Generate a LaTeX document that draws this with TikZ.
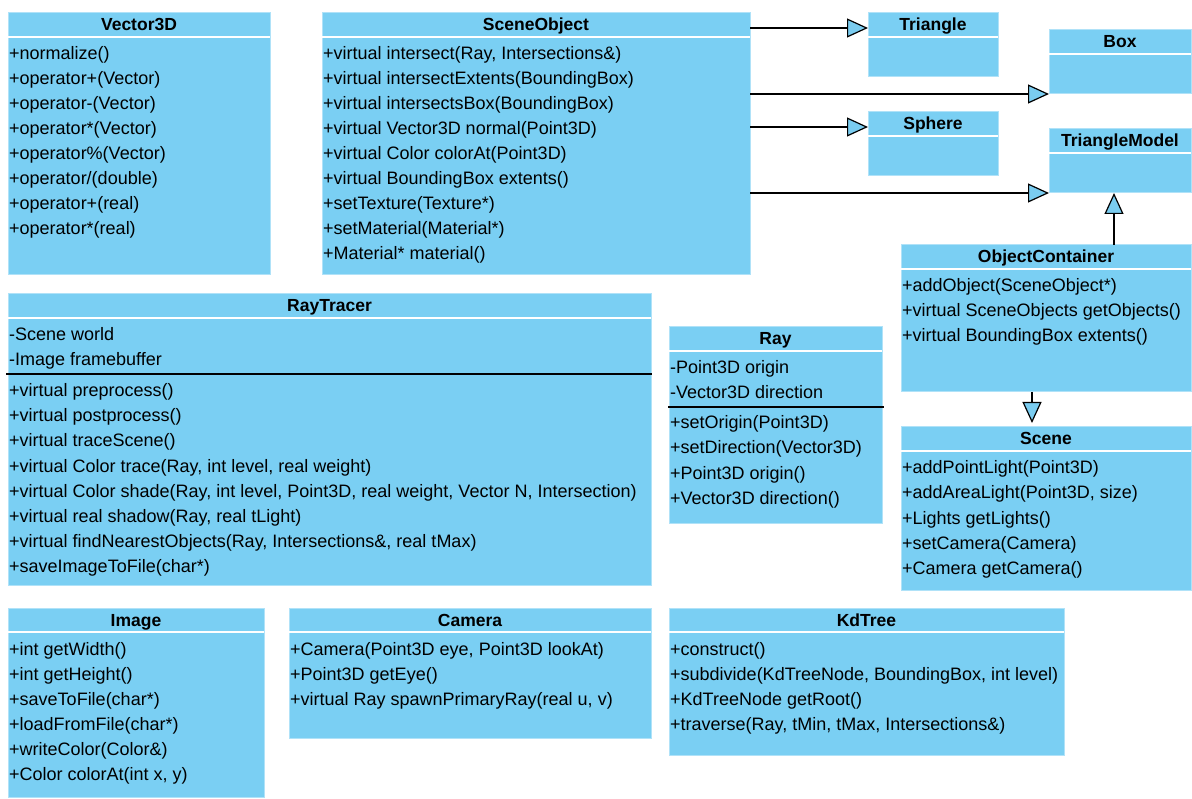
\documentclass[tikz,border=0pt]{standalone}
\usepackage{fontspec}
\setmainfont{Liberation Sans}
\usetikzlibrary{arrows.meta}
\definecolor{ClassBlue}{RGB}{122,207,243}
\definecolor{ClassEdge}{RGB}{176,226,248}
\definecolor{TipBlue}{RGB}{122,204,240}
\tikzset{
  cls/.style={draw=ClassEdge, fill=ClassBlue, line width=1pt, inner sep=0pt, outer sep=0pt, anchor=north west},
  title/.style={font=\fontsize{17.5pt}{21pt}\selectfont\bfseries, inner sep=0pt, anchor=base},
  row/.style={font=\fontsize{18pt}{22pt}\selectfont, inner sep=0pt, anchor=base west},
  hline/.style={draw=white, line width=1.2pt},
  sepline/.style={draw=black, line width=1.2pt},
  gen/.style={draw=black, line width=1.2pt, -{Triangle[length=21pt, width=19pt, fill=TipBlue, line width=1.2pt]}}
}
\begin{document}
\begin{tikzpicture}[x=1pt, y=-1pt]
\useasboundingbox (0,0) rectangle (1192,799);
%\draw[help lines, step=50] (0,0) grid (1192,799);

% class boxes
\node[cls, minimum width=262pt, minimum height=262pt] (vec) at (8,13) {};
\node[cls, minimum width=428pt, minimum height=262pt] (sobj) at (322,13) {};
\node[cls, minimum width=130pt, minimum height=64pt] (tri) at (868,13) {};
\node[cls, minimum width=142pt, minimum height=64pt] (box) at (1049,30) {};
\node[cls, minimum width=130pt, minimum height=64pt] (sph) at (868,112) {};
\node[cls, minimum width=142pt, minimum height=64pt] (tmod) at (1049,129) {};
\node[cls, minimum width=290pt, minimum height=147pt] (ocont) at (901,245) {};
\node[cls, minimum width=290pt, minimum height=163pt] (scene) at (901,427) {};
\node[cls, minimum width=643pt, minimum height=291pt] (rtr) at (8,294) {};
\node[cls, minimum width=213pt, minimum height=196pt] (ray) at (669,327) {};
\node[cls, minimum width=256pt, minimum height=189pt] (img) at (8,608) {};
\node[cls, minimum width=362pt, minimum height=130pt] (cam) at (289,608) {};
\node[cls, minimum width=395pt, minimum height=147pt] (kd) at (669,608) {};

% titles and header lines
\foreach \c/\t in {vec/Vector3D, sobj/SceneObject, tri/Triangle, box/Box, sph/Sphere,
    tmod/TriangleModel, ocont/ObjectContainer, scene/Scene, rtr/RayTracer, ray/Ray,
    img/Image, cam/Camera, kd/KdTree}{
    \node[title] (\c T) at ([yshift=-18pt]\c.north) {\t};
    \draw[hline] ([yshift=-24pt]\c.north west) -- ([yshift=-24pt]\c.north east);
}

% members
\foreach \m [count=\i] in {+normalize(), +operator+(Vector), +operator-(Vector),
    +operator*(Vector), +operator\%(Vector), +operator/(double), +operator+(real),
    +operator*(real)}
    \node[row] at ([xshift=1pt, yshift={-22pt-25pt*\i}]vec.north west) {\m};

\foreach \m [count=\i] in {{+virtual intersect(Ray, Intersections\&)},
    +virtual intersectExtents(BoundingBox), +virtual intersectsBox(BoundingBox),
    +virtual Vector3D normal(Point3D), +virtual Color colorAt(Point3D),
    +virtual BoundingBox extents(), +setTexture(Texture*), +setMaterial(Material*),
    +Material* material()}
    \node[row] at ([xshift=1pt, yshift={-22pt-25pt*\i}]sobj.north west) {\m};

\foreach \m [count=\i] in {+addObject(SceneObject*), +virtual SceneObjects getObjects(),
    +virtual BoundingBox extents()}
    \node[row] at ([xshift=1pt, yshift={-22pt-25pt*\i}]ocont.north west) {\m};

\foreach \m [count=\i] in {+addPointLight(Point3D), {+addAreaLight(Point3D, size)},
    +Lights getLights(), +setCamera(Camera), +Camera getCamera()}
    \node[row] at ([xshift=1pt, yshift={-22pt-25pt*\i}]scene.north west) {\m};

\foreach \m [count=\i] in {-Scene world, -Image framebuffer}
    \node[row] at ([xshift=1pt, yshift={-22pt-25pt*\i}]rtr.north west) {\m};
\draw[sepline] ([xshift=-2pt, yshift=-80pt]rtr.north west) -- ([xshift=1pt, yshift=-80pt]rtr.north east);
\foreach \m [count=\i] in {+virtual preprocess(), +virtual postprocess(), +virtual traceScene(),
    {+virtual Color trace(Ray, int level, real weight)},
    {+virtual Color shade(Ray, int level, Point3D, real weight, Vector N, Intersection)},
    {+virtual real shadow(Ray, real tLight)},
    {+virtual findNearestObjects(Ray, Intersections\&, real tMax)},
    +saveImageToFile(char*)}
    \node[row] at ([xshift=1pt, yshift={-78pt-25pt*\i}]rtr.north west) {\m};

\foreach \m [count=\i] in {-Point3D origin, -Vector3D direction}
    \node[row] at ([xshift=1pt, yshift={-22pt-25pt*\i}]ray.north west) {\m};
\draw[sepline] ([xshift=-1pt, yshift=-80pt]ray.north west) -- ([xshift=2pt, yshift=-80pt]ray.north east);
\foreach \m [count=\i] in {+setOrigin(Point3D), +setDirection(Vector3D), +Point3D origin(),
    +Vector3D direction()}
    \node[row] at ([xshift=1pt, yshift={-77pt-25pt*\i}]ray.north west) {\m};

\foreach \m [count=\i] in {+int getWidth(), +int getHeight(), +saveToFile(char*),
    +loadFromFile(char*), +writeColor(Color\&), {+Color colorAt(int x, y)}}
    \node[row] at ([xshift=1pt, yshift={-22pt-25pt*\i}]img.north west) {\m};

\foreach \m [count=\i] in {{+Camera(Point3D eye, Point3D lookAt)}, +Point3D getEye(),
    {+virtual Ray spawnPrimaryRay(real u, v)}}
    \node[row] at ([xshift=1pt, yshift={-22pt-25pt*\i}]cam.north west) {\m};

\foreach \m [count=\i] in {+construct(), {+subdivide(KdTreeNode, BoundingBox, int level)},
    +KdTreeNode getRoot(), {+traverse(Ray, tMin, tMax, Intersections\&)}}
    \node[row] at ([xshift=1pt, yshift={-22pt-25pt*\i}]kd.north west) {\m};

% generalizations
\coordinate (triin) at ([yshift=-15pt]tri.north west);
\coordinate (sphin) at ([yshift=-15pt]sph.north west);
\draw[gen] (sobj.east |- triin) -- (triin);
\draw[gen] (sobj.east |- box.south west) -- (box.south west);
\draw[gen] (sobj.east |- sphin) -- (sphin);
\draw[gen] (sobj.east |- tmod.south west) -- (tmod.south west);
\coordinate (up) at ([xshift=68pt]ocont.north);
\draw[gen] (up) -- (up |- tmod.south);
\coordinate (down) at ([xshift=-14pt]ocont.south);
\draw[gen, shorten >=4pt] (down) -- (down |- scene.north);
\end{tikzpicture}
\end{document}
